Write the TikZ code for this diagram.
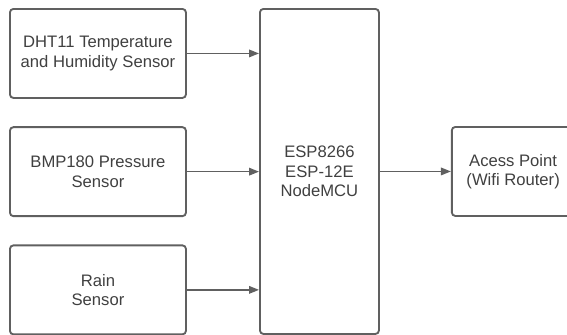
\documentclass[tikz,border=0pt]{standalone}
\usepackage{fontspec}
\setmainfont{Liberation Sans}
\usetikzlibrary{arrows.meta,positioning}
\definecolor{blockline}{RGB}{96,96,96}
\definecolor{blocktext}{RGB}{64,64,64}

\begin{document}
\begin{tikzpicture}[
      x=0.03cm,y=-0.03cm,
      node distance=0.82cm and 2.13cm,
      sensor/.style={draw=blockline,line width=1.6pt,rounded corners=3pt,minimum width=5.28cm,minimum height=2.67cm,align=center,text=blocktext,font=\fontsize{14.2}{16.5}\selectfont},
      mcu/.style={sensor,minimum width=3.57cm,minimum height=9.75cm},
      router/.style={sensor,minimum width=3.68cm},
      arr/.style={-{Triangle[length=8.5pt,width=6.5pt]},line width=1.2pt,blockline}
    ]
    \useasboundingbox (0,0) rectangle (567,334);
    \node[sensor,anchor=north west] (dht) at (9,8) {DHT11 Temperature\\and Humidity Sensor};
    \node[sensor,below=of dht] (bmp) {BMP180 Pressure\\Sensor};
    \node[sensor,below=of bmp] (rain) {Rain\\Sensor};
    \node[mcu,anchor=north west] (esp) at (259,8) {ESP8266\\ESP-12E\\NodeMCU};
    \node[router,right=of esp] (ap) {Acess Point\\(Wifi Router)};

    % sensors feed the board
    \draw[arr] (dht) -- (dht -| esp.west);
    \draw[arr] (bmp) -- (bmp -| esp.west);
    \draw[arr] (rain) -- (rain -| esp.west);
    \draw[arr] (esp) -- (ap);
  \end{tikzpicture}
\end{document}
